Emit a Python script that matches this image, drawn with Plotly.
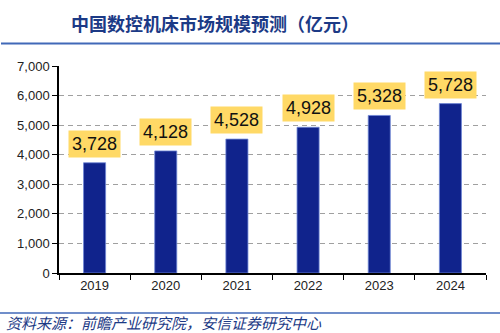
import plotly.graph_objects as go

years = ["2019", "2020", "2021", "2022", "2023", "2024"]
market_size = [3728, 4128, 4528, 4928, 5328, 5728]

title_text = "中国数控机床市场规模预测（亿元）"
source_text = "资料来源：前瞻产业研究院，安信证券研究中心"

BLUE_DARK = "#1C3A86"
BAR_COLOR = "#10238C"

# plot area in pixels: x 59..486, y 66..273
PL, PR, PT, PB = 59, 486, 66, 273
PW, PH = PR - PL, PB - PT


def px(x):
    return (x - PL) / PW


def py(y):
    return (PB - y) / PH


fig = go.Figure()
fig.add_trace(go.Bar(
    x=years,
    y=market_size,
    width=0.31,
    marker=dict(color=BAR_COLOR, line=dict(color="#6F86D6", width=0.8)),
    hoverinfo="skip",
))

# value labels in yellow boxes above each bar (category index positions)
for i, v in enumerate(market_size):
    fig.add_annotation(
        x=i, y=v, xref="x", yref="y", text=f"{v:,}", showarrow=False,
        yanchor="bottom", yshift=5,
        font=dict(family="Liberation Sans, Arial", size=18, color="#111111"),
        bgcolor="#FFD966", borderpad=3,
    )

fig.add_annotation(
    xref="paper", yref="paper", x=px(69), y=py(23),
    xanchor="left", yanchor="middle", showarrow=False,
    text=f"<b>{title_text}</b>",
    font=dict(family="Noto Sans CJK SC", size=18, color=BLUE_DARK),
)
fig.add_annotation(
    xref="paper", yref="paper", x=px(4), y=py(322),
    xanchor="left", yanchor="middle", showarrow=False,
    text=f"<i>{source_text}</i>",
    font=dict(family="Noto Sans CJK SC", size=15, color=BLUE_DARK),
)

# rules under the title and above the source note
fig.add_shape(type="line", xref="paper", yref="paper",
              x0=px(1), x1=px(500), y0=py(43.5), y1=py(43.5),
              line=dict(color="#4169B8", width=2))
fig.add_shape(type="line", xref="paper", yref="paper",
              x0=px(0), x1=px(500), y0=py(313), y1=py(313),
              line=dict(color="#4169B8", width=1.5))

fig.update_layout(
    width=500, height=333,
    margin=dict(l=PL, r=500 - PR, t=PT, b=333 - PB),
    paper_bgcolor="white", plot_bgcolor="white",
    showlegend=False,
    font=dict(family="Liberation Sans, Arial", size=13, color="#222222"),
)
fig.update_xaxes(
    type="category", categoryorder="array", categoryarray=years,
    range=[-0.5, len(years) - 0.5], autorange=False,
    showline=True, linecolor="black", linewidth=1.5,
    ticks="outside", tickson="boundaries", ticklen=5, tickcolor="black",
    tickfont=dict(size=13, color="#222222"), showgrid=False,
)
fig.update_yaxes(
    range=[0, 7000], autorange=False, dtick=1000, tickformat=",",
    showline=True, linecolor="black", linewidth=1.5,
    ticks="outside", ticklen=5, tickcolor="black",
    showgrid=True, gridcolor="#A0A0A0", griddash="5px,4px", gridwidth=1,
    zeroline=False, tickfont=dict(size=13, color="#222222"),
)

fig.write_html("out.html")
